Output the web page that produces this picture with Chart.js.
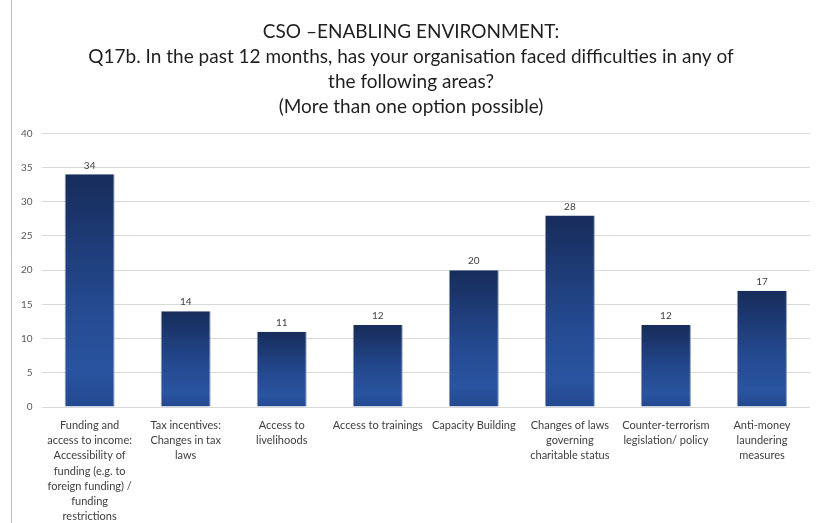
<!DOCTYPE html>
<html>
<head>
<meta charset="utf-8">
<script src="https://cdn.jsdelivr.net/npm/chart.js@4.4.0/dist/chart.umd.min.js"></script>
<style>
  html, body { margin: 0; padding: 0; background: #fff; }
  #wrap { width: 820px; height: 523px; position: relative; }
</style>
</head>
<body>
<div id="wrap"><canvas id="chart"></canvas></div>
<script>
// categories (already split into the lines shown under each bar)
const categories = [
  ['Funding and', 'access to income:', 'Accessibility of', 'funding (e.g. to', 'foreign funding) /', 'funding', 'restrictions'],
  ['Tax incentives:', 'Changes in tax', 'laws'],
  ['Access to', 'livelihoods'],
  ['Access to trainings'],
  ['Capacity Building'],
  ['Changes of laws', 'governing', 'charitable status'],
  ['Counter-terrorism', 'legislation/ policy'],
  ['Anti-money', 'laundering', 'measures']
];
const counts = [34, 14, 11, 12, 20, 28, 12, 17];
const yTicks = [0, 5, 10, 15, 20, 25, 30, 35, 40];

const titleLines = [
  'CSO \u2013ENABLING ENVIRONMENT:',
  'Q17b. In the past 12 months, has your organisation faced difficulties in any of',
  'the following areas?',
  '(More than one option possible)'
];

const FONT = 'Lato, "Open Sans", sans-serif';

// gradient per bar, dark navy at top, brighter blue near the base
function barFill(ctx) {
  const chart = ctx.chart;
  const area = chart.chartArea;
  if (!area) return '#24498f';
  const y = chart.scales.y;
  const top = y.getPixelForValue(ctx.raw);
  const bottom = y.getPixelForValue(0);
  const g = chart.ctx.createLinearGradient(0, top, 0, bottom);
  g.addColorStop(0, '#172c5a');
  g.addColorStop(0.55, '#24498f');
  g.addColorStop(0.85, '#2a54a0');
  g.addColorStop(1, '#23488f');
  return g;
}

// numbers above bars
const valueLabels = {
  id: 'valueLabels',
  afterDatasetsDraw(chart) {
    const c = chart.ctx;
    const meta = chart.getDatasetMeta(0);
    c.save();
    c.font = '10px ' + FONT;
    c.fillStyle = '#404040';
    c.textAlign = 'center';
    c.textBaseline = 'bottom';
    meta.data.forEach((bar, i) => {
      c.fillText(counts[i], bar.x, bar.y - 4);
    });
    c.restore();
  }
};

// thin frame line on the left edge of the picture
const leftEdge = {
  id: 'leftEdge',
  beforeDraw(chart) {
    const c = chart.ctx;
    c.save();
    c.strokeStyle = '#bfbfbf';
    c.lineWidth = 1;
    c.beginPath();
    c.moveTo(11.5, 0);
    c.lineTo(11.5, chart.height);
    c.stroke();
    c.restore();
  }
};

new Chart(document.getElementById('chart'), {
  type: 'bar',
  data: {
    labels: categories,
    datasets: [{
      data: counts,
      backgroundColor: barFill,
      borderColor: '#8a97b3',
      borderWidth: { right: 1, left: 1, top: 0, bottom: 0 },
      categoryPercentage: 1,
      barPercentage: 0.52
    }]
  },
  options: {
    responsive: true,
    maintainAspectRatio: false,
    animation: false,
    layout: { padding: { left: 12, right: 10, top: 0, bottom: 0 } },
    plugins: {
      legend: { display: false },
      tooltip: { enabled: false },
      title: {
        display: true,
        text: titleLines,
        color: '#1f1f1f',
        font: { family: FONT, size: 19, weight: 'normal', lineHeight: 1.32 },
        padding: { top: 19, bottom: 14 }
      }
    },
    scales: {
      x: {
        grid: { display: false },
        border: { display: false },
        afterFit(scale) { scale.height = 116; },
        ticks: {
          color: '#404040',
          font: { family: FONT, size: 11, lineHeight: 1.38 },
          maxRotation: 0,
          autoSkip: false,
          padding: 3
        }
      },
      y: {
        min: 0,
        max: 40,
        afterBuildTicks(axis) { axis.ticks = yTicks.map(v => ({ value: v })); },
        grid: { color: '#d9d9d9', lineWidth: 1, drawTicks: false },
        border: { display: false },
        ticks: {
          color: '#595959',
          font: { family: FONT, size: 10 },
          padding: 9
        }
      }
    }
  },
  plugins: [valueLabels, leftEdge]
});
</script>
</body>
</html>
